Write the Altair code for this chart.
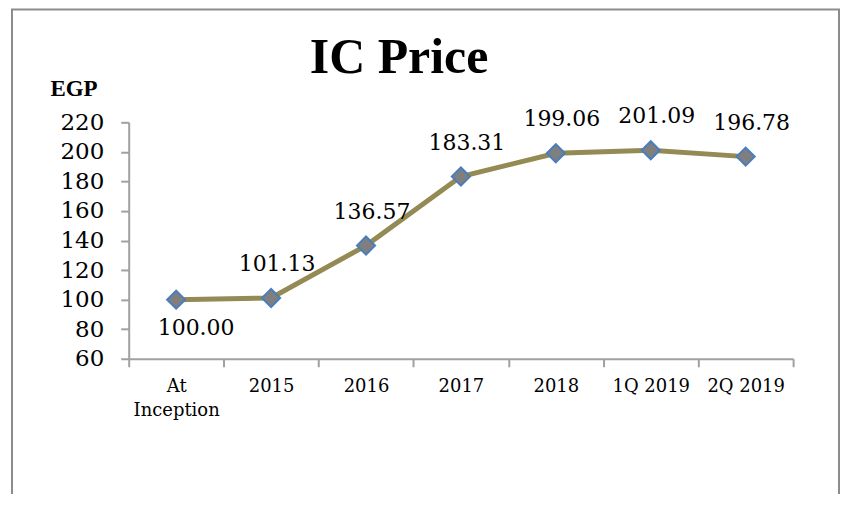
import altair as alt
import pandas as pd

categories = ["At Inception", "2015", "2016", "2017", "2018", "1Q 2019", "2Q 2019"]
prices = [100.00, 101.13, 136.57, 183.31, 199.06, 201.09, 196.78]
y_ticks = [60, 80, 100, 120, 140, 160, 180, 200, 220]

df = pd.DataFrame({"category": categories, "price": prices})

AXIS_GRAY = "#a0a0a0"
SERIF = "DejaVu Serif"

x_enc = alt.X(
    "category:N",
    sort=categories,
    bandPosition=0.5,
    scale=alt.Scale(type="band", paddingInner=0, paddingOuter=0),
    axis=alt.Axis(
        title=None,
        labelAngle=0,
        labelFont=SERIF,
        labelFontSize=18,
        labelColor="black",
        labelPadding=11,
        labelLineHeight=24,
        labelExpr="datum.label == 'At Inception' ? ['At', 'Inception'] : datum.label",
        tickBand="extent",
        tickSize=8,
        tickWidth=2,
        tickColor=AXIS_GRAY,
        domainColor=AXIS_GRAY,
        domainWidth=2,
        grid=False,
    ),
)

y_enc = alt.Y(
    "price:Q",
    scale=alt.Scale(domain=[60, 220], nice=False, zero=False),
    axis=alt.Axis(
        title="EGP",
        titleAngle=0,
        titleAlign="left",
        titleBaseline="alphabetic",
        titleX=-79,
        titleY=-27,
        titleFont="Liberation Serif",
        titleFontSize=23,
        titleFontWeight="bold",
        titleColor="black",
        values=y_ticks,
        labelFont=SERIF,
        labelFontSize=23,
        labelColor="black",
        labelPadding=17,
        tickSize=8,
        tickWidth=2,
        tickColor=AXIS_GRAY,
        domainColor=AXIS_GRAY,
        domainWidth=2,
        grid=False,
    ),
)

base = alt.Chart(df).encode(x=x_enc, y=y_enc)

frame = alt.Chart(pd.DataFrame({"f": [0]})).mark_rect(
    fill=None, stroke="#8c8c8c", strokeWidth=2
).encode(
    x=alt.value(-117), x2=alt.value(712), y=alt.value(-113), y2=alt.value(600)
)

line = base.mark_line(color="#948A54", strokeWidth=5)

points = base.mark_point(
    shape="diamond", size=330, filled=True, fill="#7F7F7F",
    stroke="#4A7EBB", strokeWidth=2, opacity=1
)

labels_above = base.transform_filter(
    "datum.category != 'At Inception'"
).mark_text(
    font=SERIF, fontSize=22, color="black", baseline="middle", dy=-34, dx=6
).encode(text=alt.Text("price:Q", format=".2f"))

labels_below = base.transform_filter(
    "datum.category == 'At Inception'"
).mark_text(
    font=SERIF, fontSize=22, color="black", baseline="middle", dy=28, dx=20
).encode(text=alt.Text("price:Q", format=".2f"))

chart = alt.layer(frame, line, points, labels_above, labels_below).properties(
    width=666,
    height=237,
    autosize="none",
    padding={"left": 121, "top": 114, "right": 47, "bottom": 135},
    title=alt.Title(
        "IC Price",
        font="Liberation Serif",
        fontSize=50,
        fontWeight="bold",
        color="black",
        anchor="middle",
        baseline="alphabetic",
        dx=-62,
        offset=-115,
    ),
).configure_view(stroke=None)

chart.save("out.html", embed_options={"renderer": "svg", "actions": False})
